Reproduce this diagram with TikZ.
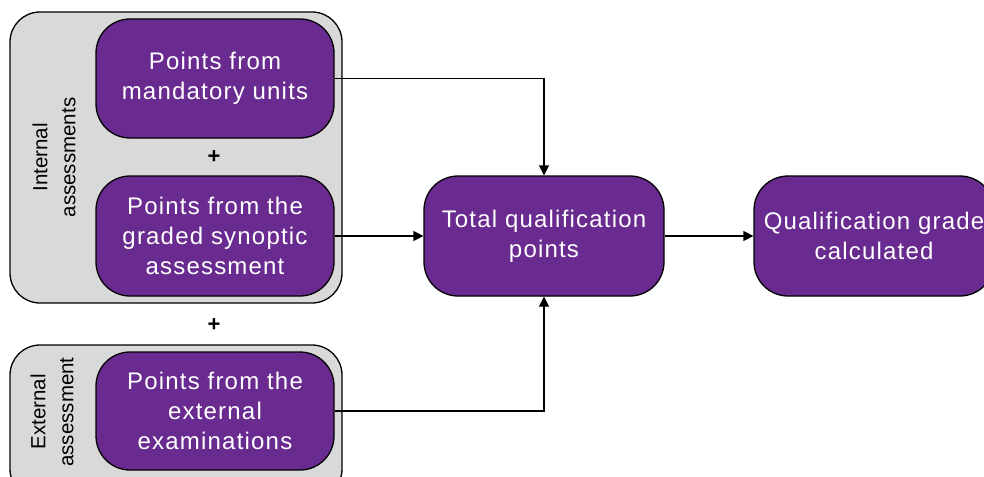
\documentclass[tikz,border=0pt]{standalone}
\usepackage{fontspec}
\setmainfont{Liberation Sans}
\usetikzlibrary{arrows.meta}
\definecolor{purp}{HTML}{6A2B90}
\definecolor{grayfill}{HTML}{D9D9D9}
\tikzset{
  pbox/.style={draw=black, line width=1.3pt, fill=purp, rounded corners=34pt, text=white,
    align=center, inner sep=0pt, font=\fontsize{24}{30}\selectfont\addfontfeatures{LetterSpace=5}},
  gbox/.style={draw=black, line width=1.3pt, fill=grayfill, rounded corners=30pt, inner sep=0pt},
  vlabel/.style={rotate=90, align=center, font=\fontsize{20.5}{28}\selectfont},
  plus/.style={font=\fontsize{22}{26}\selectfont\bfseries},
  arr/.style={line width=1.3pt, -{Triangle[length=10pt,width=10pt]}}
}
\begin{document}
\begin{tikzpicture}[x=1pt,y=-1pt]
\useasboundingbox (0,0) rectangle (984,476);
\node[gbox, minimum width=332pt, minimum height=291pt] (intbox) at (176,157.5) {};
\node[gbox, minimum width=332pt, minimum height=154pt] (extbox) at (176,422) {};
\node[vlabel] (intlab) at (54,157.5) {Internal\\assessments};
\node[vlabel] (extlab) at (52,412) {External\\assessment};
\node[pbox, minimum width=238pt, minimum height=119pt] (b1) at (215,78.5) {Points from\\mandatory units};
\node[pbox, minimum width=238pt, minimum height=120pt] (b2) at (215,236) {Points from the\\graded synoptic\\assessment};
\node[pbox, minimum width=238pt, minimum height=118pt] (b3) at (215,411) {Points from the\\external\\examinations};
\node[plus] (p1) at (214,157) {+};
\node[plus] (p2) at (214,325) {+};
\node[pbox, minimum width=240pt, minimum height=120pt] (tot) at (544,236) {Total qualification\\points};
\node[pbox, minimum width=240pt, minimum height=120pt] (qual) at (874,236) {Qualification grade\\calculated};
\draw[arr] (b1.east) -| (tot.north);
\draw[arr] (b2.east) -- (tot.west);
\draw[arr] (b3.east) -| (tot.south);
\draw[arr] (tot.east) -- (qual.west);
\end{tikzpicture}
\end{document}
